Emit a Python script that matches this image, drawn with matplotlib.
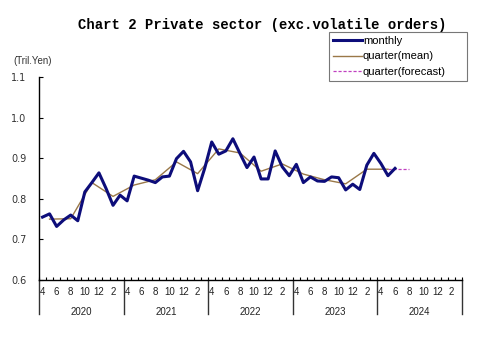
import matplotlib
matplotlib.use('Agg')
import matplotlib.pyplot as plt
import matplotlib.transforms as mtransforms

# monthly values, Apr 2020 .. Jun 2024 (Tril. Yen)
monthly = [0.755, 0.763, 0.732, 0.748, 0.760, 0.746, 0.817, 0.840, 0.864, 0.826, 0.784, 0.809,
           0.795, 0.856, 0.851, 0.846, 0.840, 0.854, 0.856, 0.899, 0.917, 0.891, 0.820, 0.875,
           0.940, 0.910, 0.918, 0.948, 0.912, 0.877, 0.903, 0.849, 0.849, 0.918, 0.879, 0.857,
           0.885, 0.840, 0.854, 0.844, 0.843, 0.854, 0.852, 0.822, 0.836, 0.823, 0.883, 0.912,
           0.887, 0.857, 0.875]
# quarterly means, plotted at the middle month of each quarter
quarter_mean = [0.750, 0.751, 0.840, 0.806, 0.834, 0.847, 0.891, 0.862, 0.923, 0.913,
                0.868, 0.886, 0.861, 0.847, 0.837, 0.873, 0.873]
quarter_forecast = [0.873, 0.873]  # Q2 2024 -> Q3 2024 forecast
years = ['2020', '2021', '2022', '2023', '2024']
month_names = ['4', '6', '8', '10', '12', '2']

n_months = 60
x_month = list(range(len(monthly)))
x_quarter = [1 + 3 * k for k in range(len(quarter_mean))]
x_fc = [x_quarter[-1], x_quarter[-1] + 3]

fig = plt.figure(figsize=(5, 3.44), dpi=100)
ax = fig.add_axes([0.078, 0.186, 0.846, 0.590])
plt.rcParams['font.family'] = ['Liberation Sans', 'DejaVu Sans']

ax.plot(x_fc, quarter_forecast, color='#c040c0', lw=0.9, ls=(0, (2.5, 1.5)),
        label='quarter(forecast)', zorder=2)
ax.plot(x_quarter, quarter_mean, color='#9a7848', lw=1.0, label='quarter(mean)', zorder=3)
ax.plot(x_month, monthly, color='#0d0d7a', lw=2.2, label='monthly', zorder=4)

ax.set_xlim(-0.5, n_months - 0.5)
ax.set_ylim(0.6, 1.1)
ax.set_yticks([0.6, 0.7, 0.8, 0.9, 1.0, 1.1])
ax.set_yticklabels(['0.6', '0.7', '0.8', '0.9', '1.0', '1.1'], fontsize=7, color='#333333')
ax.tick_params(axis='y', direction='in', length=3, width=0.8, pad=9)

ax.spines['top'].set_visible(False)
ax.spines['right'].set_visible(False)
ax.spines['left'].set_linewidth(1.0)
ax.spines['bottom'].set_linewidth(1.0)

# small ticks on month boundaries, labels are drawn by hand below
ax.set_xticks([i - 0.5 for i in range(n_months + 1)])
ax.set_xticklabels([])
ax.tick_params(axis='x', direction='in', length=2, width=0.8)

trans = mtransforms.blended_transform_factory(ax.transData, ax.transAxes)
for i in range(n_months):
    if i % 2 == 0:
        ax.text(i, -0.035, month_names[(i % 12) // 2], transform=trans, ha='center', va='top',
                fontsize=7, color='#222222')
for k, yr in enumerate(years):
    ax.text(12 * k + 5.5, -0.135, yr, transform=trans, ha='center', va='top',
            fontsize=7, color='#222222')
for k in range(len(years) + 1):
    ax.plot([12 * k - 0.5, 12 * k - 0.5], [0, -0.165], transform=trans, color='#333333',
            lw=1.0, clip_on=False)

fig.text(0.026, 0.822, '(Tril.Yen)', fontsize=7, color='#333333', va='center')
fig.text(0.524, 0.928, 'Chart 2 Private sector (exc.volatile orders)', fontsize=10,
         family='Liberation Mono', weight='bold', ha='center', va='center')

handles, labels = ax.get_legend_handles_labels()
order = [2, 1, 0]
leg = fig.legend([handles[i] for i in order], [labels[i] for i in order],
                 loc='upper left', bbox_to_anchor=(0.658, 0.907, 0.276, 0.0), mode='expand',
                 fontsize=8, frameon=True, fancybox=False, handlelength=2.6,
                 handletextpad=0.1, labelspacing=0.5, borderpad=0.35, borderaxespad=0)
leg.get_frame().set_edgecolor('#555555')
leg.get_frame().set_linewidth(0.8)

fig.savefig('out.png', dpi=100)
